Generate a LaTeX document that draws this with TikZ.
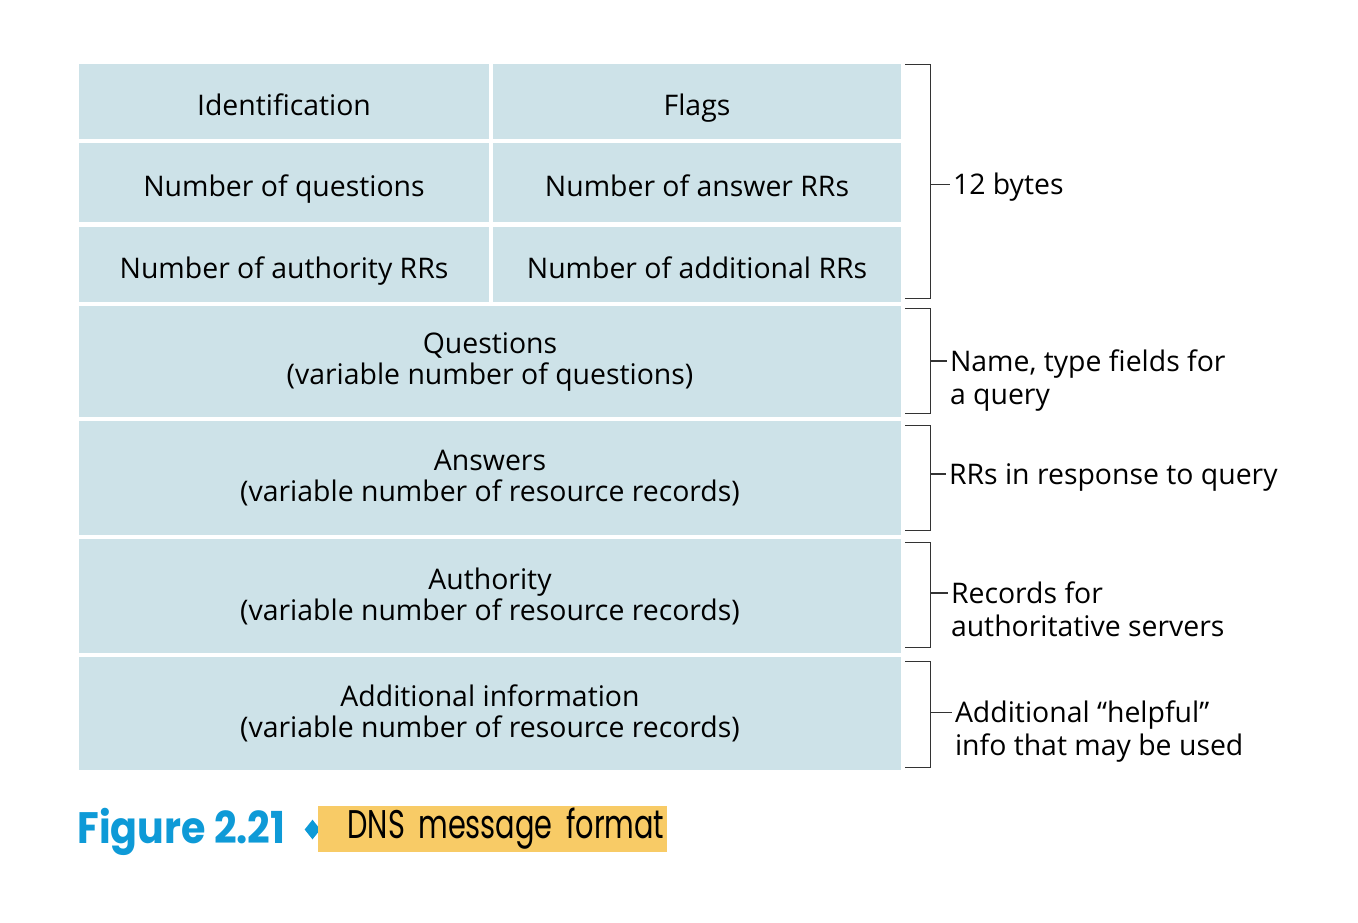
\documentclass[tikz,border=0pt]{standalone}
\usepackage{fontspec}
\setmainfont{Open Sans}
\newfontfamily\figfont[FakeStretch=0.9]{Poppins}
\newfontfamily\titfont[FakeStretch=0.72]{Poppins}
\usetikzlibrary{calc,positioning,shapes.geometric}
\definecolor{celeste}{HTML}{CDE2E8}
\definecolor{azulfig}{HTML}{0E9AD7}
\definecolor{amarillo}{HTML}{F8CB66}
\definecolor{trazo}{HTML}{333333}
\tikzset{
  celda/.style={fill=celeste, inner sep=0pt, align=center,
    font=\fontsize{14.2}{15.5}\selectfont},
  campo/.style={celda, text height=14pt, text depth=0pt},
  llave/.style={draw=trazo, line width=0.6pt},
  nota/.style={anchor=base west, inner sep=1pt, align=left, yshift=-5pt,
    font=\fontsize{14.2}{16.5}\selectfont},
  nota2/.style={nota, yshift=-16.5pt},
}

\begin{document}
\begin{tikzpicture}[x=0.5pt, y=-0.5pt]
  \useasboundingbox (0,0) rectangle (1358,922);
  % header, 12 bytes
  \node[campo, minimum width=205pt, minimum height=37.5pt] (ident) at (284,101.5) {Identification};
  \node[campo, minimum width=204pt, minimum height=37.5pt] (flags) at (697,101.5) {Flags};
  \node[campo, minimum width=205pt, minimum height=39.5pt] (nquest) at (284,182.5) {Number of questions};
  \node[campo, minimum width=204pt, minimum height=39.5pt] (nansw) at (697,182.5) {Number of answer RRs};
  \node[campo, minimum width=205pt, minimum height=37.5pt] (nauth) at (284,264.5) {Number of authority RRs};
  \node[campo, minimum width=204pt, minimum height=37.5pt] (nadd) at (697,264.5) {Number of additional RRs};
  % variable sections
  \node[celda, minimum width=411pt, minimum height=55.5pt] (quest) at (490,361.5) {Questions\\(variable number of questions)};
  \node[celda, minimum width=411pt, minimum height=57pt] (answ) at (490,478) {Answers\\(variable number of resource records)};
  \node[celda, minimum width=411pt, minimum height=57pt] (auth) at (490,596) {Authority\\(variable number of resource records)};
  \node[celda, minimum width=411pt, minimum height=56.5pt] (addi) at (490,713.5) {Additional information\\(variable number of resource records)};

  % brackets
  \coordinate (l1a) at ($(flags.north east)+(4,1)$);
  \coordinate (l1b) at ($(nadd.south east)+(4,-4)$);
  \draw[llave] (l1a) -- ++(25,0) |- (l1b);
  \draw[llave] ($(l1a)!0.5!(l1b)+(25,3)$) -- ++(20,0) node[nota] (n1) {12 bytes};

  \coordinate (l2a) at ($(quest.north east)+(4,3)$);
  \coordinate (l2b) at ($(quest.south east)+(4,-4)$);
  \draw[llave] (l2a) -- ++(25,0) |- (l2b);
  \draw[llave] ($(l2a)!0.5!(l2b)+(25,0)$) -- ++(17,0) node[nota2] (n2) {Name, type fields for\\a query};

  \coordinate (l3a) at ($(answ.north east)+(4,5)$);
  \coordinate (l3b) at ($(answ.south east)+(4,-5)$);
  \draw[llave] (l3a) -- ++(25,0) |- (l3b);
  \draw[llave] ($(l3a)!0.5!(l3b)+(25,-4)$) -- ++(16,0) node[nota] (n3) {RRs in response to query};

  \coordinate (l4a) at ($(auth.north east)+(4,4)$);
  \coordinate (l4b) at ($(auth.south east)+(4,-6)$);
  \draw[llave] (l4a) -- ++(25,0) |- (l4b);
  \draw[llave] ($(l4a)!0.5!(l4b)+(25,-2)$) -- ++(18,0) node[nota2] (n4) {Records for\\authoritative servers};

  \coordinate (l5a) at ($(addi.north east)+(4,5)$);
  \coordinate (l5b) at ($(addi.south east)+(4,-3)$);
  \draw[llave] (l5a) -- ++(25,0) |- (l5b);
  \draw[llave] ($(l5a)!0.5!(l5b)+(25,-2)$) -- ++(22,0) node[nota2] (n5) {Additional ``helpful''\\info that may be used};

  % caption
  \node[anchor=base west, inner sep=0pt, text=azulfig,
    font=\figfont\bfseries\fontsize{22}{24}\selectfont] (fig) at (77,843) {Figure 2.21};
  \node[diamond, fill=azulfig, inner sep=0pt, aspect=0.8, minimum width=8pt, minimum height=10pt] (rombo) at (312.5,829.5) {};
  \node[fill=amarillo, anchor=west, inner xsep=1.5pt, inner ysep=0pt, minimum height=23pt,
    text width=171.5pt, align=right, font=\titfont\fontsize{20}{22}\selectfont] (titulo) at (318,829) {\mbox{DNS message format}};
\end{tikzpicture}
\end{document}
